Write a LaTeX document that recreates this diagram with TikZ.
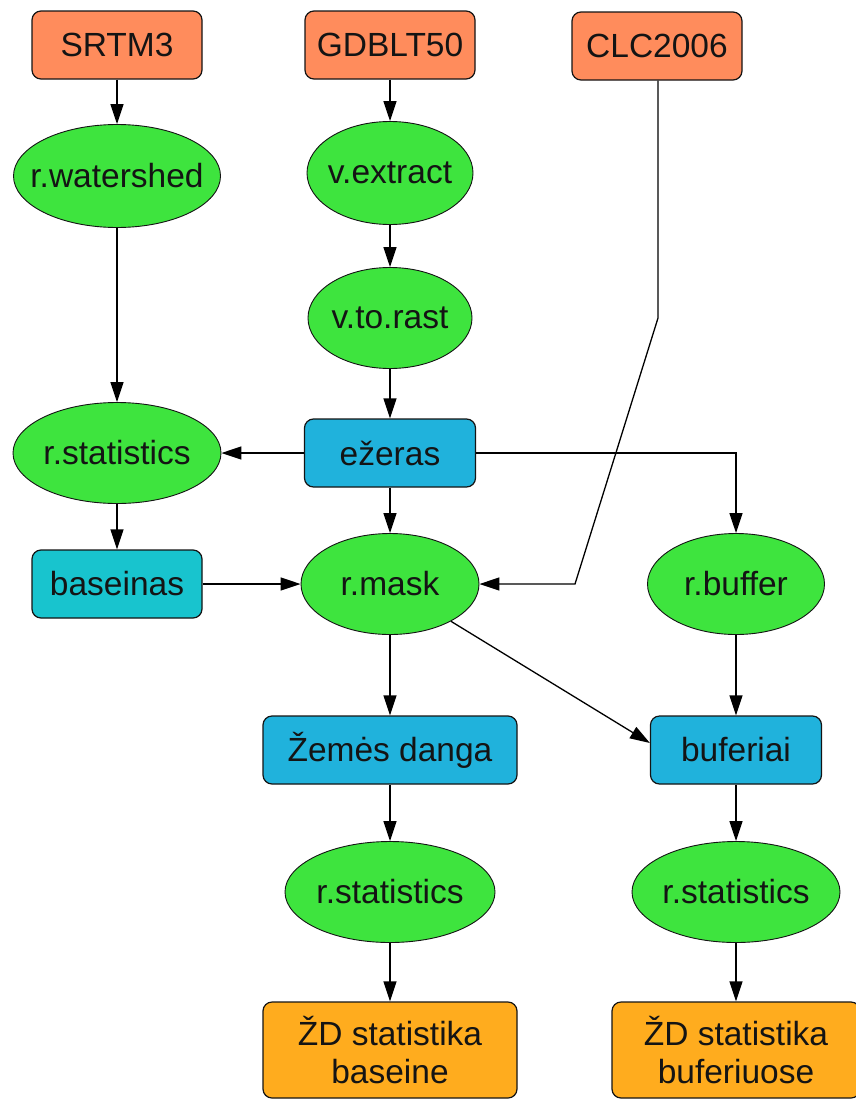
\documentclass[tikz,border=0pt]{standalone}
\usepackage{fontspec}
\setmainfont{Liberation Sans}
\usetikzlibrary{shapes.geometric,arrows.meta}
\definecolor{srcorange}{RGB}{255,140,92}
\definecolor{procgreen}{RGB}{62,228,62}
\definecolor{datablue}{RGB}{32,178,220}
\definecolor{datacyan}{RGB}{24,196,206}
\definecolor{outorange}{RGB}{255,172,30}
\definecolor{inkdark}{RGB}{20,20,20}
\newcommand{\elabel}[1]{\makebox[0pt]{#1}}
\begin{document}
\begin{tikzpicture}[x=1pt,y=-1pt,
  every node/.style={font=\fontsize{33.5}{38}\selectfont, text=inkdark, inner sep=0pt, align=center},
  boxbase/.style={draw=inkdark, line width=1.2pt, rounded corners=9pt},
  srcbox/.style={boxbase, fill=srcorange, minimum width=170pt, minimum height=68pt},
  databox/.style={boxbase, fill=datablue, minimum height=68pt},
  cyanbox/.style={boxbase, fill=datacyan, minimum height=68pt},
  outbox/.style={boxbase, fill=outorange, minimum height=96pt},
  proc/.style={ellipse, draw=inkdark, line width=0.9pt, fill=procgreen, minimum height=101pt},
  conn/.style={draw=black, line width=1.3pt, -{Triangle[length=20pt,width=13pt]}}
]
\fill[white] (0,0) rectangle (855,1100);
\useasboundingbox (0,0) rectangle (855,1100);

% sources
\node[srcbox] (srtm) at (117,45) {SRTM3};
\node[srcbox] (gdb) at (390,45) {GDBLT50};
\node[srcbox] (clc) at (657,46) {CLC2006};

% processes and data
\node[proc, minimum width=207pt, minimum height=103pt] (wshed) at (117,176) {\elabel{r.watershed}};
\node[proc, minimum width=166pt, minimum height=103pt] (vext) at (390,173) {\elabel{v.extract}};
\node[proc, minimum width=164pt] (vrast) at (390,318) {\elabel{v.to.rast}};
\node[proc, minimum width=208pt] (stat1) at (117,453) {\elabel{r.statistics}};
\node[databox, minimum width=171pt] (ezer) at (390,453) {e\v{z}eras};
\node[cyanbox, minimum width=170pt] (bas) at (117,584) {baseinas};
\node[proc, minimum width=178pt] (mask) at (390,584) {\elabel{r.mask}};
\node[proc, minimum width=177pt] (buf) at (736,584) {\elabel{r.buffer}};
\node[databox, minimum width=254pt] (zem) at (390,750) {Žemės danga};
\node[databox, minimum width=171pt] (bufr) at (736,750) {buferiai};
\node[proc, minimum width=210pt] (stat2) at (390,892) {\elabel{r.statistics}};
\node[proc, minimum width=208pt] (stat3) at (736,892) {\elabel{r.statistics}};
\node[outbox, minimum width=254pt] (out1) at (390,1050) {ŽD statistika\\baseine};
\node[outbox, minimum width=248pt] (out2) at (736,1050) {ŽD statistika\\buferiuose};

% helper coordinates
\coordinate (clcbend) at (658,318);
\coordinate (clcfoot) at (575,584);

% connectors
\draw[conn] (srtm) -- (wshed);
\draw[conn] (wshed) -- (stat1);
\draw[conn] (gdb) -- (vext);
\draw[conn] (vext) -- (vrast);
\draw[conn] (vrast) -- (ezer);
\draw[conn] (ezer) -- (stat1);
\draw[conn] (ezer) -- (mask);
\draw[conn] (ezer.east) -| (buf.north);
\draw[conn] (clc.south -| clcbend) -- (clcbend) -- (clcfoot) -- (mask.east);
\draw[conn] (stat1) -- (bas);
\draw[conn] (bas) -- (mask);
\draw[conn] (mask) -- (zem);
\draw[conn] (mask) -- ([yshift=7pt]bufr.west);
\draw[conn] (buf) -- (bufr);
\draw[conn] (zem) -- (stat2);
\draw[conn] (stat2) -- (out1);
\draw[conn] (bufr) -- (stat3);
\draw[conn] (stat3) -- (out2);
\end{tikzpicture}
\end{document}
